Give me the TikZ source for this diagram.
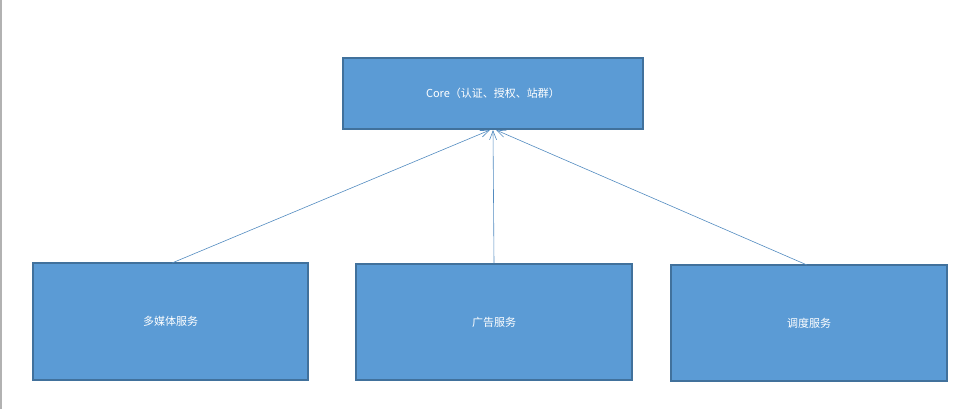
\documentclass[tikz,border=0pt]{standalone}
\usepackage{fontspec}
\setmainfont{Noto Sans CJK SC}
\usetikzlibrary{arrows.meta}
\definecolor{bfill}{HTML}{5B9BD5}
\definecolor{bline}{HTML}{41719C}
\begin{document}
\begin{tikzpicture}[x=1pt,y=-1pt,
  box/.style={draw=bline,line width=1.2pt,fill=bfill,text=white,font=\fontsize{11}{13}\selectfont},
  conn/.style={draw=bfill!90!black,line width=0.6pt,-{Straight Barb[length=9pt,width=7pt]}}]
\useasboundingbox (0,0) rectangle (954,409);
\draw[gray!60,line width=1.5pt] (1,0) -- (1,409);
\node[box,minimum width=300pt,minimum height=71pt] (core) at (493,93.5) {Core（认证、授权、站群）};
\node[box,minimum width=275pt,minimum height=117pt] (a) at (170.5,321.5) {多媒体服务};
\node[box,minimum width=276pt,minimum height=116pt] (b) at (494,322) {广告服务};
\node[box,minimum width=276pt,minimum height=116pt] (c) at (809,323) {调度服务};
\coordinate (ta) at (490,130);
\coordinate (tb) at (493,130);
\coordinate (tc) at (496,130);
\draw[conn] (172,263) -- (ta);
\draw[conn] (b.north) -- (tb);
\draw[conn] (807,265) -- (tc);
\end{tikzpicture}
\end{document}
